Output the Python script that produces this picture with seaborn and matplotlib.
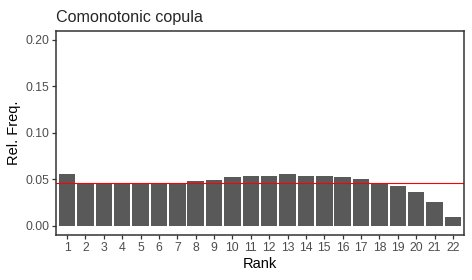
import numpy as np
import pandas as pd
import seaborn as sns
import matplotlib.pyplot as plt

ranks = list(range(1, 23))
rel_freq = [0.0559, 0.0462, 0.0444, 0.0444, 0.0462, 0.0462, 0.0462, 0.0484,
            0.0495, 0.0527, 0.0538, 0.0538, 0.0559, 0.0538, 0.0538, 0.0527,
            0.0505, 0.0458, 0.0430, 0.0366, 0.0258, 0.0097]
uniform_level = 0.0462
title = "Comonotonic copula"

sns.set_theme(style="ticks")
plt.rcParams['font.family'] = ['Liberation Sans', 'DejaVu Sans']

df = pd.DataFrame({'Rank': ranks, 'Rel. Freq.': rel_freq})

fig = plt.figure(figsize=(4.72, 2.8), dpi=100)
ax = fig.add_axes([56 / 472, 1 - 235 / 280, (464 - 56) / 472, (235 - 30.7) / 280])

sns.barplot(data=df, x='Rank', y='Rel. Freq.', color='#595959', saturation=1,
            width=0.9, linewidth=0, ax=ax)
ax.axhline(uniform_level, color='red', linewidth=0.8)

ax.set_ylim(-0.01, 0.21)
ax.set_xlim(-0.6, 21.6)
ax.set_yticks([0, 0.05, 0.10, 0.15, 0.20])
ax.set_yticklabels(['0.00', '0.05', '0.10', '0.15', '0.20'])

for s in ax.spines.values():
    s.set_visible(True)
    s.set_color('#333333')
    s.set_linewidth(1.1)
ax.tick_params(axis='both', colors='#333333', labelcolor='#4d4d4d',
               labelsize=8.8, length=3, width=0.9, pad=2)
ax.set_xlabel('Rank', fontsize=10.5, color='black', labelpad=2)
ax.set_ylabel('Rel. Freq.', fontsize=10.5, color='black', labelpad=3)
ax.set_title(title, fontsize=11.6, loc='left', pad=6)

plt.savefig('out.png', dpi=100)
